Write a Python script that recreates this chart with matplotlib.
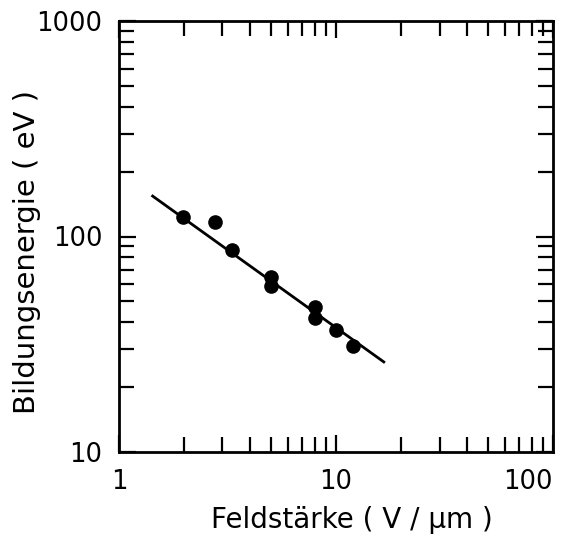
import matplotlib
matplotlib.use("Agg")
import matplotlib.pyplot as plt
from matplotlib.ticker import LogLocator, NullFormatter, FixedLocator, FixedFormatter

# measured points: field strength (V/um) vs formation energy (eV)
feld = [1.98, 2.77, 3.31, 5.0, 5.0, 8.0, 8.0, 9.97, 12.0]
energie = [123, 117, 87, 65, 59, 47, 42, 37, 31]

# fitted line end points
fit_x = [1.43, 16.6]
fit_y = [154, 26.2]

plt.rcParams['font.family'] = ['DejaVu Sans']

fig = plt.figure(figsize=(5.69, 5.5), dpi=100)
ax = fig.add_axes([0.209, 0.178, 0.763, 0.784])

ax.plot(fit_x, fit_y, color='black', lw=2)
ax.plot(feld, energie, 'o', color='black', ms=9.5)

ax.set_xscale('log')
ax.set_yscale('log')
ax.set_xlim(1, 100)
ax.set_ylim(10, 1000)

ax.xaxis.set_major_locator(FixedLocator([1, 10, 100]))
ax.xaxis.set_major_formatter(FixedFormatter(['1', '10', '100']))
ax.yaxis.set_major_locator(FixedLocator([10, 100, 1000]))
ax.yaxis.set_major_formatter(FixedFormatter(['10', '100', '1000']))
ax.xaxis.set_minor_locator(LogLocator(base=10, subs=range(2, 10)))
ax.yaxis.set_minor_locator(LogLocator(base=10, subs=range(2, 10)))
ax.xaxis.set_minor_formatter(NullFormatter())
ax.yaxis.set_minor_formatter(NullFormatter())

ax.tick_params(which='both', direction='in', top=True, right=True, width=1.6)
ax.tick_params(which='major', length=12, labelsize=18.5, pad=12)
ax.tick_params(which='minor', length=11)
for s in ax.spines.values():
    s.set_linewidth(2)

fig.canvas.draw()
ax.get_xticklabels()[-1].set_ha('right')
ax.get_xticklabels()[-1].set_x(100)

ax.set_xlabel('Feldstärke ( V / µm )', fontsize=20)
ax.set_ylabel('Bildungsenergie ( eV )', fontsize=21)
ax.xaxis.set_label_coords(0.537, -0.125)
ax.yaxis.set_label_coords(-0.18, 0.464)

fig.savefig('out.png', dpi=100)
